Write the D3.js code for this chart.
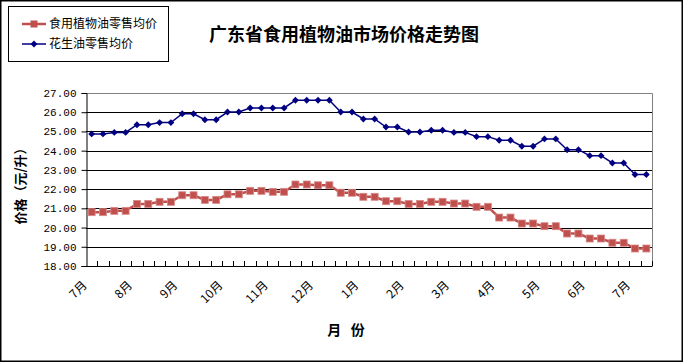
<!DOCTYPE html>
<html>
<head>
<meta charset="utf-8">
<script src="https://cdn.jsdelivr.net/npm/d3@7"></script>
<style>
  body { margin: 0; background: #fff; }
  svg { display: block; }
</style>
</head>
<body>
<div class="canva"></div>
<script>
// weekly prices, 50 weeks from July to July
var edibleOil = [
  20.80, 20.80, 20.87, 20.87, 21.23, 21.23, 21.34, 21.34, 21.68, 21.68,
  21.44, 21.44, 21.73, 21.73, 21.91, 21.91, 21.86, 21.86, 22.24, 22.24,
  22.20, 22.20, 21.81, 21.81, 21.60, 21.60, 21.37, 21.37, 21.23, 21.23,
  21.34, 21.34, 21.25, 21.25, 21.08, 21.08, 20.52, 20.52, 20.21, 20.21,
  20.07, 20.07, 19.69, 19.69, 19.43, 19.43, 19.21, 19.21, 18.91, 18.91
];
var peanutOil = [
  24.87, 24.87, 24.95, 24.95, 25.35, 25.35, 25.46, 25.46, 25.92, 25.92,
  25.61, 25.61, 26.01, 26.01, 26.22, 26.22, 26.22, 26.22, 26.62, 26.62,
  26.62, 26.62, 26.01, 26.01, 25.65, 25.65, 25.23, 25.23, 24.97, 24.97,
  25.06, 25.06, 24.95, 24.95, 24.73, 24.73, 24.54, 24.54, 24.23, 24.23,
  24.61, 24.61, 24.05, 24.05, 23.74, 23.74, 23.36, 23.36, 22.76, 22.76
];
var monthLabels = ["7月", "8月", "9月", "10月", "11月", "12月", "1月",
                   "2月", "3月", "4月", "5月", "6月", "7月"];
var seriesNames = ["食用植物油零售均价", "花生油零售均价"];
var yTicks = [18, 19, 20, 21, 22, 23, 24, 25, 26, 27];

const W = 683, H = 362;
const margin = {top: 93, right: 31, bottom: 96, left: 86};
const graphWidth = W - margin.left - margin.right;
const graphHeight = H - margin.top - margin.bottom;

const svg = d3.select(".canva").append("svg")
    .attr("width", W)
    .attr("height", H)
    .style("font-family", "'Noto Sans CJK SC', sans-serif");

// outer frame
svg.append("rect")
    .attr("x", 0.75).attr("y", 0.75)
    .attr("width", W - 1.5).attr("height", H - 1.5)
    .attr("fill", "#fff").attr("stroke", "#000").attr("stroke-width", 1.5);

const g = svg.append("g")
    .attr("transform", `translate(${margin.left}, ${margin.top})`);

var weeks = d3.range(edibleOil.length);

var x = d3.scaleBand()
    .domain(weeks)
    .range([0, graphWidth]);

var y = d3.scaleLinear()
    .domain([18, 27])
    .range([graphHeight, 0]);

// grid lines
g.selectAll(".grid")
    .data(yTicks.filter(d => d > 18 && d < 27))
    .enter().append("line")
    .attr("x1", 0).attr("x2", graphWidth)
    .attr("y1", d => Math.round(y(d)) + 0.5)
    .attr("y2", d => Math.round(y(d)) + 0.5)
    .attr("stroke", "#000").attr("stroke-width", 1);

// top and right border (grey)
g.append("path")
    .attr("d", `M0,${Math.round(y(27)) + 0.5}H${graphWidth + 0.5}V${graphHeight}`)
    .attr("fill", "none").attr("stroke", "#808080");

// y axis
var yAxis = d3.axisLeft(y)
    .tickValues(yTicks)
    .tickSize(5)
    .tickPadding(5)
    .tickFormat(d3.format(".2f"));

g.append("g")
    .attr("transform", "translate(0.5, 0)")
    .call(yAxis)
    .call(s => s.select(".domain").attr("stroke", "#000"))
    .call(s => s.selectAll("text")
        .attr("font-family", "'Liberation Mono', monospace")
        .attr("font-size", 11)
        .attr("fill", "#000"));

// x axis: ticks at category boundaries, pointing up
g.append("line")
    .attr("x1", 0).attr("x2", graphWidth + 0.5)
    .attr("y1", graphHeight + 0.5).attr("y2", graphHeight + 0.5)
    .attr("stroke", "#000");

g.selectAll(".xtick")
    .data(weeks.slice(1).concat([weeks.length]))
    .enter().append("line")
    .attr("x1", d => Math.round(d * x.step()) + 0.5)
    .attr("x2", d => Math.round(d * x.step()) + 0.5)
    .attr("y1", graphHeight).attr("y2", graphHeight - 5)
    .attr("stroke", "#000");

// month labels every 4 weeks
g.selectAll(".xlabel")
    .data(monthLabels)
    .enter().append("text")
    .attr("transform", (d, i) => {
        var cx = x(i * 4) + x.bandwidth() / 2;
        return `translate(${cx - 4}, ${graphHeight + 20}) rotate(-45)`;
    })
    .attr("text-anchor", "end")
    .attr("font-size", 12)
    .attr("fill", "#000")
    .text(d => d);

// lines
var valueLine = d3.line()
    .x((d, i) => x(i) + x.bandwidth() / 2)
    .y(d => y(d));

g.append("path")
    .datum(edibleOil)
    .attr("fill", "none")
    .attr("stroke", "#C0504D")
    .attr("stroke-width", 2.5)
    .attr("d", valueLine);

g.selectAll(".sq")
    .data(edibleOil)
    .enter().append("rect")
    .attr("x", (d, i) => x(i) + x.bandwidth() / 2 - 3.5)
    .attr("y", d => y(d) - 3.5)
    .attr("width", 7).attr("height", 7)
    .attr("fill", "#C0504D")
    .attr("stroke", "#D88A88").attr("stroke-width", 0.8);

g.append("path")
    .datum(peanutOil)
    .attr("fill", "none")
    .attr("stroke", "#000080")
    .attr("stroke-width", 1.5)
    .attr("d", valueLine);

var diamond = d3.symbol().type(d3.symbolDiamond2).size(30);
g.selectAll(".dm")
    .data(peanutOil)
    .enter().append("path")
    .attr("transform", (d, i) => `translate(${x(i) + x.bandwidth() / 2}, ${y(d)})`)
    .attr("d", diamond)
    .attr("fill", "#000080");

// title
svg.append("text")
    .attr("x", 344).attr("y", 41)
    .attr("text-anchor", "middle")
    .attr("font-size", 18)
    .attr("font-weight", "bold")
    .text("广东省食用植物油市场价格走势图");

// axis titles
svg.append("text")
    .attr("transform", "translate(25, 183) rotate(-90)")
    .attr("text-anchor", "middle")
    .attr("font-size", 13)
    .attr("font-weight", "bold")
    .text("价格（元/升）");

svg.append("text")
    .attr("x", 346).attr("y", 335)
    .attr("text-anchor", "middle")
    .attr("font-size", 14)
    .attr("font-weight", "bold")
    .attr("xml:space", "preserve")
    .style("white-space", "pre")
    .text("月   份");

// legend
var legend = svg.append("g");
legend.append("rect")
    .attr("x", 8.5).attr("y", 6.5)
    .attr("width", 160).attr("height", 55)
    .attr("fill", "#fff").attr("stroke", "#000");

var lg1 = legend.append("g").attr("transform", "translate(0, 24)");
lg1.append("line")
    .attr("x1", 22).attr("x2", 46).attr("y1", 0).attr("y2", 0)
    .attr("stroke", "#C0504D").attr("stroke-width", 2.5);
lg1.append("rect")
    .attr("x", 30.5).attr("y", -3.5).attr("width", 7).attr("height", 7)
    .attr("fill", "#C0504D");
lg1.append("text")
    .attr("x", 49).attr("y", 4)
    .attr("font-size", 12)
    .text(seriesNames[0]);

var lg2 = legend.append("g").attr("transform", "translate(0, 44)");
lg2.append("line")
    .attr("x1", 22).attr("x2", 46).attr("y1", 0).attr("y2", 0)
    .attr("stroke", "#000080").attr("stroke-width", 1.5);
lg2.append("path")
    .attr("transform", "translate(34, 0)")
    .attr("d", diamond)
    .attr("fill", "#000080");
lg2.append("text")
    .attr("x", 49).attr("y", 4)
    .attr("font-size", 12)
    .text(seriesNames[1]);
</script>
</body>
</html>
